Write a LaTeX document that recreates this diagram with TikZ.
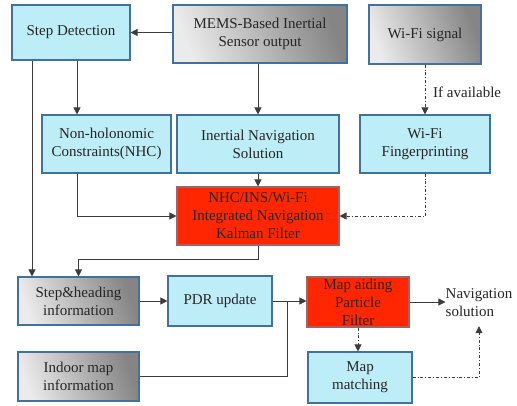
\documentclass[tikz,border=0pt]{standalone}
\usepackage{fontspec}
\setmainfont{Liberation Serif}
\newfontfamily\tnr{Liberation Serif}
\usetikzlibrary{arrows.meta,calc}
\definecolor{cyanfill}{RGB}{189,237,247}
\definecolor{boxborder}{RGB}{65,113,156}
\definecolor{redfill}{RGB}{255,38,0}
\definecolor{redborder}{RGB}{160,100,100}
\definecolor{linegray}{RGB}{60,60,60}
\tikzset{
  txt/.style={font=\tnr\fontsize{15}{18}\selectfont, text=black!85},
  base/.style={draw, line width=1.1pt, align=center, inner sep=1pt, txt},
  cyanbox/.style={base, draw=boxborder, fill=cyanfill},
  graybox/.style={base, draw=boxborder, left color=white!92!black, right color=black!48, shading angle=110},
  redbox/.style={base, draw=redborder, fill=redfill},
  conn/.style={draw=linegray, line width=0.8pt},
  arr/.style={conn, -{Triangle[length=7pt,width=7pt]}},
  dd/.style={conn, dash pattern=on 3pt off 2pt on 0.8pt off 2pt},
  ddarr/.style={dd, -{Triangle[length=7pt,width=7pt]}},
}
\begin{document}
\begin{tikzpicture}[x=1pt,y=-1pt]
\useasboundingbox (0,0) rectangle (517,405);
% nodes
\node[cyanbox, minimum width=118pt, minimum height=55pt] (sd) at (71,32.5) {Step Detection};
\node[graybox, minimum width=174pt, minimum height=58pt] (mems) at (260,34) {MEMS-Based Inertial\\Sensor output};
\node[graybox, minimum width=112pt, minimum height=59pt] (wifi) at (425,34.5) {Wi-Fi signal};
\node[cyanbox, minimum width=129pt, minimum height=58pt] (nhc) at (106.5,144) {Non-holonomic\\Constraints(NHC)};
\node[cyanbox, minimum width=162pt, minimum height=58pt] (ins) at (258,144) {Inertial Navigation\\Solution};
\node[cyanbox, minimum width=130pt, minimum height=58pt] (wf) at (425,144) {Wi-Fi\\Fingerprinting};
\node[redbox, minimum width=162pt, minimum height=58pt] (kf) at (258,216) {NHC/INS/Wi-Fi\\Integrated Navigation\\Kalman Filter};
\node[graybox, minimum width=121pt, minimum height=48pt] (sh) at (78.5,301) {Step\&heading\\information};
\node[cyanbox, minimum width=104pt, minimum height=50pt] (pdr) at (220,301) {PDR update};
\node[redbox, minimum width=102pt, minimum height=50pt] (pf) at (358,302) {Map aiding\\Particle\\Filter};
\node[graybox, minimum width=121pt, minimum height=49pt] (im) at (78.5,376.5) {Indoor map\\information};
\node[cyanbox, minimum width=104pt, minimum height=51pt] (mm) at (360,377.5) {Map\\matching};
\node[txt, align=left, inner sep=0pt, minimum height=46pt] (nav) at (479,303) {Navigation\\solution};
\node[txt, anchor=west, inner sep=0pt] (ifav) at (433,92) {If available};
% helper coordinates
\coordinate (c32) at (32,0);
\coordinate (c77) at (77,0);
\coordinate (c259) at (0,259);
\coordinate (c287) at (287,0);
% connectors
\draw[arr] (mems.west |- sd.east) -- (sd.east);
\draw[arr] (sd.south -| c77) -- (nhc.north -| c77);
\draw[arr] (sd.south -| c32) -- (sh.north -| c32);
\draw[arr] (mems.south -| ins.north) -- (ins.north);
\draw[ddarr] (wifi.south) -- (wf.north);
\draw[arr] (ins.south) -- (kf.north);
\draw[arr] (nhc.south -| c77) |- (kf.west);
\draw[ddarr] (wf.south) |- (kf.east);
\draw[arr] (kf.south) -- (kf.south |- c259) -| (sh.north);
\draw[arr] (sh.east) -- (pdr.west);
\draw[arr] (pdr.east) -- (pdr.east -| pf.west);
\draw[conn] (im.east) -| (c287 |- pdr.east);
\draw[arr] (pf.east) -- (nav.west |- pf.east);
\draw[ddarr] (pf.south) -- (mm.north -| pf.south);
\draw[ddarr] (mm.east) -| (nav.south);
\end{tikzpicture}
\end{document}
